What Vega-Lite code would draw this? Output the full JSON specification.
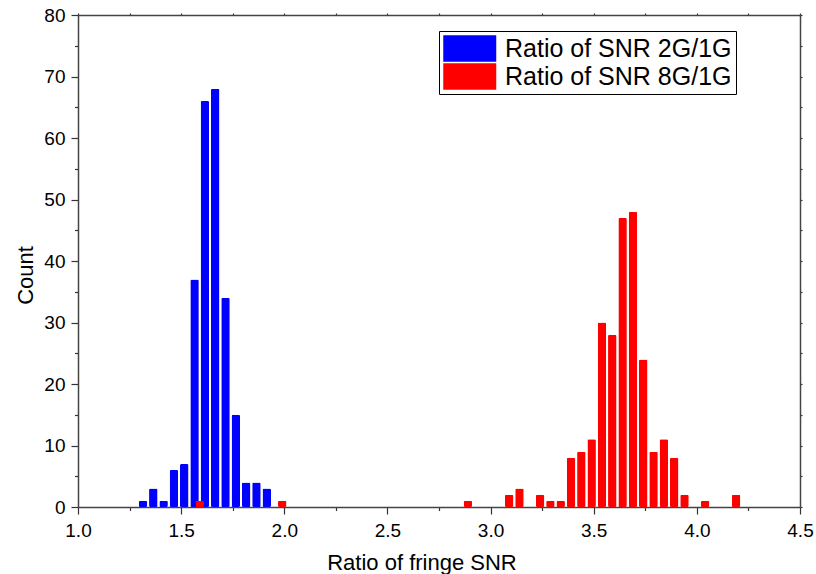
{
  "$schema": "https://vega.github.io/schema/vega-lite/v6.json",
  "width": 722,
  "height": 492,
  "autosize": {"type": "none"},
  "padding": {"left": 78, "top": 15, "right": 16, "bottom": 67},
  "background": "white",
  "config": {
    "view": {"stroke": null},
    "font": "Liberation Sans",
    "axis": {
      "domainColor": "#444444",
      "domainWidth": 1.5,
      "tickColor": "#333333",
      "tickWidth": 1.2,
      "grid": false,
      "labelFlush": false,
      "labelOverlap": false,
      "labelFont": "Liberation Sans",
      "labelColor": "#000000",
      "titleFont": "Liberation Sans",
      "titleFontWeight": "normal",
      "titleColor": "#000000"
    }
  },
  "data": {
    "values": [
      {"x": 1.315, "count": 1, "series": "Ratio of SNR 2G/1G"},
      {"x": 1.365, "count": 3, "series": "Ratio of SNR 2G/1G"},
      {"x": 1.415, "count": 1, "series": "Ratio of SNR 2G/1G"},
      {"x": 1.465, "count": 6, "series": "Ratio of SNR 2G/1G"},
      {"x": 1.515, "count": 7, "series": "Ratio of SNR 2G/1G"},
      {"x": 1.565, "count": 37, "series": "Ratio of SNR 2G/1G"},
      {"x": 1.615, "count": 66, "series": "Ratio of SNR 2G/1G"},
      {"x": 1.665, "count": 68, "series": "Ratio of SNR 2G/1G"},
      {"x": 1.715, "count": 34, "series": "Ratio of SNR 2G/1G"},
      {"x": 1.765, "count": 15, "series": "Ratio of SNR 2G/1G"},
      {"x": 1.815, "count": 4, "series": "Ratio of SNR 2G/1G"},
      {"x": 1.865, "count": 4, "series": "Ratio of SNR 2G/1G"},
      {"x": 1.915, "count": 3, "series": "Ratio of SNR 2G/1G"},
      {"x": 1.59, "count": 1, "series": "Ratio of SNR 8G/1G"},
      {"x": 1.99, "count": 1, "series": "Ratio of SNR 8G/1G"},
      {"x": 2.89, "count": 1, "series": "Ratio of SNR 8G/1G"},
      {"x": 3.09, "count": 2, "series": "Ratio of SNR 8G/1G"},
      {"x": 3.14, "count": 3, "series": "Ratio of SNR 8G/1G"},
      {"x": 3.24, "count": 2, "series": "Ratio of SNR 8G/1G"},
      {"x": 3.29, "count": 1, "series": "Ratio of SNR 8G/1G"},
      {"x": 3.34, "count": 1, "series": "Ratio of SNR 8G/1G"},
      {"x": 3.39, "count": 8, "series": "Ratio of SNR 8G/1G"},
      {"x": 3.44, "count": 9, "series": "Ratio of SNR 8G/1G"},
      {"x": 3.49, "count": 11, "series": "Ratio of SNR 8G/1G"},
      {"x": 3.54, "count": 30, "series": "Ratio of SNR 8G/1G"},
      {"x": 3.59, "count": 28, "series": "Ratio of SNR 8G/1G"},
      {"x": 3.64, "count": 47, "series": "Ratio of SNR 8G/1G"},
      {"x": 3.69, "count": 48, "series": "Ratio of SNR 8G/1G"},
      {"x": 3.74, "count": 24, "series": "Ratio of SNR 8G/1G"},
      {"x": 3.79, "count": 9, "series": "Ratio of SNR 8G/1G"},
      {"x": 3.84, "count": 11, "series": "Ratio of SNR 8G/1G"},
      {"x": 3.89, "count": 8, "series": "Ratio of SNR 8G/1G"},
      {"x": 3.94, "count": 2, "series": "Ratio of SNR 8G/1G"},
      {"x": 4.04, "count": 1, "series": "Ratio of SNR 8G/1G"},
      {"x": 4.19, "count": 2, "series": "Ratio of SNR 8G/1G"}
    ]
  },
  "resolve": {"axis": {"x": "independent", "y": "independent"}},
  "layer": [
    {
      "mark": {"type": "bar", "opacity": 0},
      "encoding": {
        "x": {"field": "x", "type": "quantitative",
          "scale": {"domain": [1, 4.5], "nice": false, "zero": false, "padding": 0},
          "axis": {"orient": "top", "values": [1, 1.25, 1.5, 1.75, 2, 2.25, 2.5, 2.75, 3, 3.25, 3.5, 3.75, 4, 4.25, 4.5], "labels": false, "tickSize": 2, "title": null}},
        "y": {"field": "count", "type": "quantitative",
          "scale": {"domain": [0, 80], "nice": false, "padding": 0},
          "axis": {"orient": "right", "values": [0, 5, 10, 15, 20, 25, 30, 35, 40, 45, 50, 55, 60, 65, 70, 75, 80], "labels": false, "tickSize": 2, "title": null}}
      }
    },
    {
      "mark": {"type": "bar", "opacity": 0},
      "encoding": {
        "x": {"field": "x", "type": "quantitative",
          "scale": {"padding": 0},
          "axis": {"orient": "bottom", "values": [1.25, 1.75, 2.25, 2.75, 3.25, 3.75, 4.25], "labels": false, "domain": false, "tickSize": 3.5, "title": null}},
        "y": {"field": "count", "type": "quantitative",
          "axis": {"orient": "left", "values": [5, 15, 25, 35, 45, 55, 65, 75], "labels": false, "domain": false, "tickSize": 3.5, "title": null}}
      }
    },
    {
      "mark": {"type": "bar", "size": 8.5, "cornerRadius": 1.5},
      "encoding": {
        "x": {"field": "x", "type": "quantitative",
          "scale": {"padding": 0},
          "axis": {"orient": "bottom", "values": [1, 1.5, 2, 2.5, 3, 3.5, 4, 4.5], "format": ".1f", "tickSize": 7, "labelFontSize": 19, "labelPadding": 7,
            "title": "Ratio of fringe SNR", "titleFontSize": 22, "titleX": 343.5, "titleY": 62, "titleBaseline": "alphabetic", "titleAlign": "center", "titleAnchor": null}},
        "y": {"field": "count", "type": "quantitative",
          "axis": {"orient": "left", "values": [0, 10, 20, 30, 40, 50, 60, 70, 80], "tickSize": 7, "labelFontSize": 19, "labelPadding": 6,
            "title": "Count", "titleFontSize": 22, "titleX": -46, "titleY": 260, "titleAngle": 270, "titleBaseline": "alphabetic", "titleAlign": "center", "titleAnchor": null}},
        "color": {"field": "series", "type": "nominal",
          "scale": {"domain": ["Ratio of SNR 2G/1G", "Ratio of SNR 8G/1G"], "range": ["#0000ff", "#ff0000"]},
          "legend": {"orient": "none", "legendX": 361, "legendY": 16, "title": null,
            "symbolType": "M-1,-1H3V1H-1Z", "symbolSize": 702, "symbolStrokeWidth": 0,
            "labelFontSize": 25, "labelFont": "Liberation Sans", "labelColor": "#000000", "labelLimit": 500,
            "strokeColor": "#000000", "padding": 4, "rowPadding": 1, "labelOffset": 35, "fillColor": "white"}}
      }
    }
  ]
}
